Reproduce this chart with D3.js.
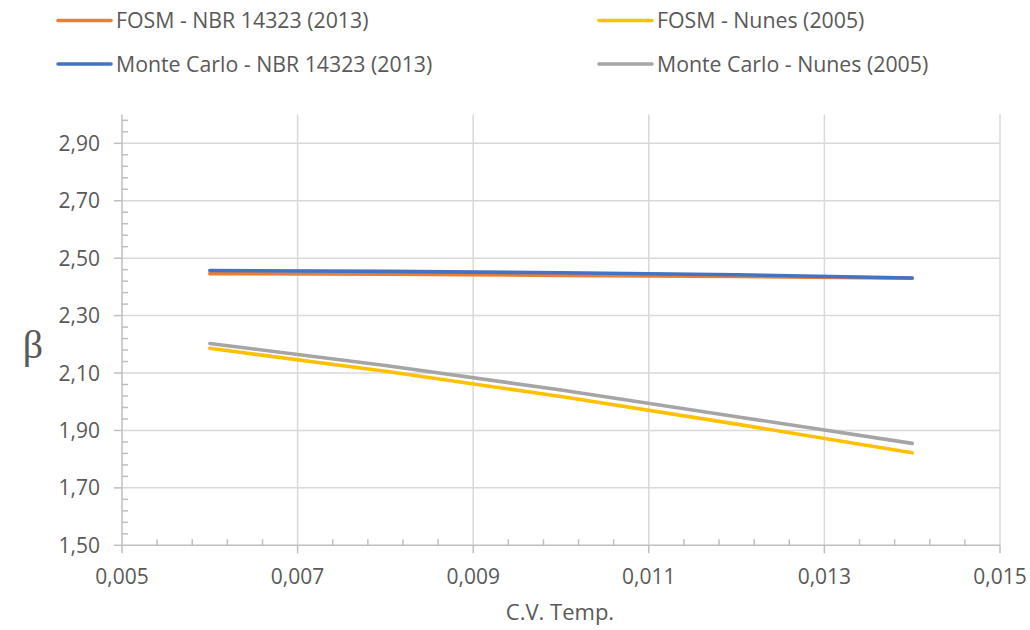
<!DOCTYPE html>
<meta charset="utf-8">
<head>
<style>
body { margin: 0; background: #fff; }
text { font-family: "Open Sans", sans-serif; fill: #595959; }
.grid line { stroke: #d9d9d9; stroke-width: 1.5px; }
.axisline { stroke: #bfbfbf; stroke-width: 1.5px; }
.series { fill: none; stroke-width: 3.6px; stroke-linecap: round; stroke-linejoin: round; }
</style>
</head>
<body>
<div id="chart"></div>
<script src="https://cdn.jsdelivr.net/npm/d3@7"></script>
<script>

// data
var cvTemp = [0.006, 0.008, 0.010, 0.012, 0.014];
var fosmNbr = [2.446, 2.444, 2.440, 2.436, 2.430];
var mcNbr = [2.457, 2.454, 2.449, 2.442, 2.431];
var fosmNunes = [2.186, 2.106, 2.018, 1.922, 1.822];
var mcNunes = [2.203, 2.126, 2.041, 1.948, 1.855];

var seriesNames = ["FOSM - NBR 14323 (2013)", "FOSM - Nunes (2005)",
                   "Monte Carlo - NBR 14323 (2013)", "Monte Carlo - Nunes (2005)"];
var seriesColors = ["#ed7d31", "#ffc000", "#4472c4", "#a5a5a5"];

var xTicks = [0.005, 0.007, 0.009, 0.011, 0.013, 0.015];
var yTicks = [1.5, 1.7, 1.9, 2.1, 2.3, 2.5, 2.7, 2.9];

var width = 1030, height = 630;

var svg = d3.select("#chart")
  .append("svg")
    .attr("width", width)
    .attr("height", height);

var x = d3.scaleLinear().domain([0.005, 0.015]).range([122, 1000]);
var y = d3.scaleLinear().domain([1.5, 3.0]).range([545.3, 114.6]);

var fmtX = function(d) { return d3.format(".3f")(d).replace(".", ","); };
var fmtY = function(d) { return d3.format(".2f")(d).replace(".", ","); };

// gridlines
var grid = svg.append("g").attr("class", "grid");
grid.selectAll(".hg")
  .data(yTicks.slice(1))
  .enter().append("line")
    .attr("x1", x(0.005)).attr("x2", x(0.015))
    .attr("y1", function(d) { return y(d); })
    .attr("y2", function(d) { return y(d); });
grid.selectAll(".vg")
  .data(xTicks.slice(1))
  .enter().append("line")
    .attr("x1", function(d) { return x(d); })
    .attr("x2", function(d) { return x(d); })
    .attr("y1", y(1.5)).attr("y2", y(3.0));

// minor ticks
var yMinor = d3.range(1, 38).map(function(i) { return +(1.5 + i * 0.04).toFixed(2); })
  .filter(function(d) { return yTicks.indexOf(d) < 0; });
var xMinor = d3.range(1, 25).map(function(i) { return +(0.005 + i * 0.0004).toFixed(4); })
  .filter(function(d) { return xTicks.indexOf(d) < 0; });

svg.append("g").selectAll("line")
  .data(yMinor)
  .enter().append("line")
    .attr("class", "axisline")
    .attr("x1", x(0.005)).attr("x2", x(0.005) + 6)
    .attr("y1", function(d) { return y(d); })
    .attr("y2", function(d) { return y(d); });
svg.append("g").selectAll("line")
  .data(xMinor)
  .enter().append("line")
    .attr("class", "axisline")
    .attr("x1", function(d) { return x(d); })
    .attr("x2", function(d) { return x(d); })
    .attr("y1", y(1.5)).attr("y2", y(1.5) - 6);

// major ticks
svg.append("g").selectAll("line")
  .data(yTicks)
  .enter().append("line")
    .attr("class", "axisline")
    .attr("x1", x(0.005) - 8).attr("x2", x(0.005))
    .attr("y1", function(d) { return y(d); })
    .attr("y2", function(d) { return y(d); });
svg.append("g").selectAll("line")
  .data(xTicks)
  .enter().append("line")
    .attr("class", "axisline")
    .attr("x1", function(d) { return x(d); })
    .attr("x2", function(d) { return x(d); })
    .attr("y1", y(1.5)).attr("y2", y(1.5) + 8);

// axis lines
svg.append("line").attr("class", "axisline")
  .attr("x1", x(0.005)).attr("x2", x(0.005))
  .attr("y1", y(3.0)).attr("y2", y(1.5));
svg.append("line").attr("class", "axisline")
  .attr("x1", x(0.005)).attr("x2", x(0.015))
  .attr("y1", y(1.5)).attr("y2", y(1.5));

// tick labels
svg.append("g").selectAll("text")
  .data(yTicks)
  .enter().append("text")
    .attr("x", 100)
    .attr("y", function(d) { return y(d); })
    .attr("dy", "0.36em")
    .attr("text-anchor", "end")
    .style("font-size", "21px")
    .text(fmtY);
svg.append("g").selectAll("text")
  .data(xTicks)
  .enter().append("text")
    .attr("x", function(d) { return x(d); })
    .attr("y", 584)
    .attr("text-anchor", "middle")
    .style("font-size", "21px")
    .text(fmtX);

// axis titles
svg.append("text")
  .attr("x", 560).attr("y", 620)
  .attr("text-anchor", "middle")
  .style("font-size", "22px")
  .text("C.V. Temp.");
svg.append("text")
  .attr("x", 33).attr("y", 358)
  .attr("text-anchor", "middle")
  .style("font-family", "'Liberation Serif', serif")
  .style("font-size", "40px")
  .text("β");

// lines
var allSeries = [fosmNbr, fosmNunes, mcNbr, mcNunes];
var line = d3.line()
  .x(function(d, i) { return x(cvTemp[i]); })
  .y(function(d) { return y(d); });

// draw order: Nunes first, then NBR; Monte Carlo above FOSM
[1, 3, 0, 2].forEach(function(k) {
  svg.append("path")
    .datum(allSeries[k])
    .attr("class", "series")
    .attr("stroke", seriesColors[k])
    .attr("d", line);
});

// legend
var legendPos = [[58, 20.5], [599, 20.5], [58, 64], [599, 64]];
var legend = svg.selectAll(".legend")
  .data(seriesNames)
  .enter().append("g")
    .attr("class", "legend")
    .attr("transform", function(d, i) {
      return "translate(" + legendPos[i][0] + "," + legendPos[i][1] + ")";
    });
legend.append("line")
  .attr("x1", 0).attr("x2", 53)
  .attr("y1", 0).attr("y2", 0)
  .attr("stroke", function(d, i) { return seriesColors[i]; })
  .attr("stroke-width", 3.6)
  .attr("stroke-linecap", "round");
legend.append("text")
  .attr("x", 58).attr("y", 7.8)
  .style("font-size", "21.3px")
  .text(function(d) { return d; });

</script>
</body>
